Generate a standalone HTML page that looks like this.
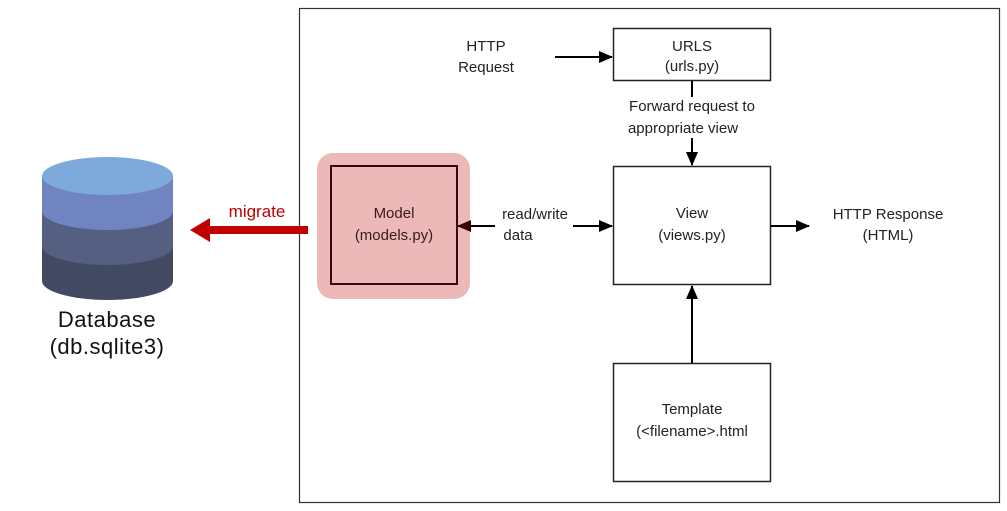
<!DOCTYPE html>
<html><head><meta charset="utf-8"><style>
html,body{margin:0;padding:0;background:#fff;width:1007px;height:511px;overflow:hidden}
svg{display:block}
text{font-family:"Liberation Sans",sans-serif;font-size:15px;fill:#222}
</style></head><body>
<svg width="1007" height="511" viewBox="0 0 1007 511" xmlns="http://www.w3.org/2000/svg">
<defs>
<marker id="a" markerWidth="14" markerHeight="12" refX="13" refY="6" orient="auto" markerUnits="userSpaceOnUse"><path d="M0,0 L14,6 L0,12 z" fill="#000"/></marker>
<marker id="ad" markerWidth="14" markerHeight="12" refX="13" refY="6" orient="auto" markerUnits="userSpaceOnUse"><path d="M0,0 L14,6 L0,12 z" fill="#3a0000"/></marker>
</defs>
<rect x="299.5" y="8.5" width="700" height="494" fill="#fff" stroke="#333" stroke-width="1.2"/>
<!-- cylinder -->
<path d="M42,176 L42,281 A65.5,19 0 0 0 173,281 L173,176 z" fill="#424a62"/>
<path d="M42,176 L42,246 A65.5,19 0 0 0 173,246 L173,176 z" fill="#545f82"/>
<path d="M42,176 L42,211 A65.5,19 0 0 0 173,211 L173,176 z" fill="#6f84c1"/>
<ellipse cx="107.5" cy="176" rx="65.5" ry="19" fill="#7eaadb"/>
<text x="107" y="327" text-anchor="middle" style="font-size:22px;fill:#111;letter-spacing:0.5px">Database</text>
<text x="107" y="354" text-anchor="middle" style="font-size:22px;fill:#111;letter-spacing:0.5px">(db.sqlite3)</text>
<!-- migrate -->
<rect x="208" y="226" width="100" height="8" fill="#c00000"/>
<path d="M190,230 L210,218 L210,242 z" fill="#c00000"/>
<text x="257" y="217" text-anchor="middle" style="font-size:17px;fill:#c00000">migrate</text>
<!-- model -->
<rect x="317" y="153" width="153" height="146" rx="16" fill="#edb8b8"/>
<rect x="331" y="166" width="126" height="118" fill="none" stroke="#3a0a0a" stroke-width="2"/>
<text x="394" y="218" text-anchor="middle" style="fill:#3a1a1a">Model</text>
<text x="394" y="240" text-anchor="middle" style="fill:#3a1a1a">(models.py)</text>
<!-- urls -->
<rect x="613.5" y="28.5" width="157" height="52" fill="#fff" stroke="#222" stroke-width="1.5"/>
<text x="692" y="51" text-anchor="middle">URLS</text>
<text x="692" y="71" text-anchor="middle">(urls.py)</text>
<text x="486" y="51" text-anchor="middle">HTTP</text>
<text x="486" y="72" text-anchor="middle">Request</text>
<line x1="555" y1="57" x2="612" y2="57" stroke="#000" stroke-width="2" marker-end="url(#a)"/>
<line x1="692" y1="81" x2="692" y2="97" stroke="#000" stroke-width="2"/>
<text x="692" y="111" text-anchor="middle">Forward request to</text>
<text x="683" y="133" text-anchor="middle">appropriate view</text>
<line x1="692" y1="138" x2="692" y2="165" stroke="#000" stroke-width="2" marker-end="url(#a)"/>
<!-- view -->
<rect x="613.5" y="166.5" width="157" height="118" fill="#fff" stroke="#222" stroke-width="1.5"/>
<text x="692" y="218" text-anchor="middle">View</text>
<text x="692" y="240" text-anchor="middle">(views.py)</text>
<text x="535" y="219" text-anchor="middle">read/write</text>
<text x="518" y="240" text-anchor="middle">data</text>
<line x1="495" y1="226" x2="458" y2="226" stroke="#000" stroke-width="2" marker-end="url(#ad)"/>
<line x1="573" y1="226" x2="612" y2="226" stroke="#000" stroke-width="2" marker-end="url(#a)"/>
<line x1="771" y1="226" x2="809" y2="226" stroke="#000" stroke-width="2" marker-end="url(#a)"/>
<text x="888" y="219" text-anchor="middle">HTTP Response</text>
<text x="888" y="240" text-anchor="middle">(HTML)</text>
<!-- template -->
<rect x="613.5" y="363.5" width="157" height="118" fill="#fff" stroke="#222" stroke-width="1.5"/>
<text x="692" y="414" text-anchor="middle">Template</text>
<text x="692" y="436" text-anchor="middle">(&lt;filename&gt;.html</text>
<line x1="692" y1="363" x2="692" y2="286" stroke="#000" stroke-width="2" marker-end="url(#a)"/>
</svg>
</body></html>
